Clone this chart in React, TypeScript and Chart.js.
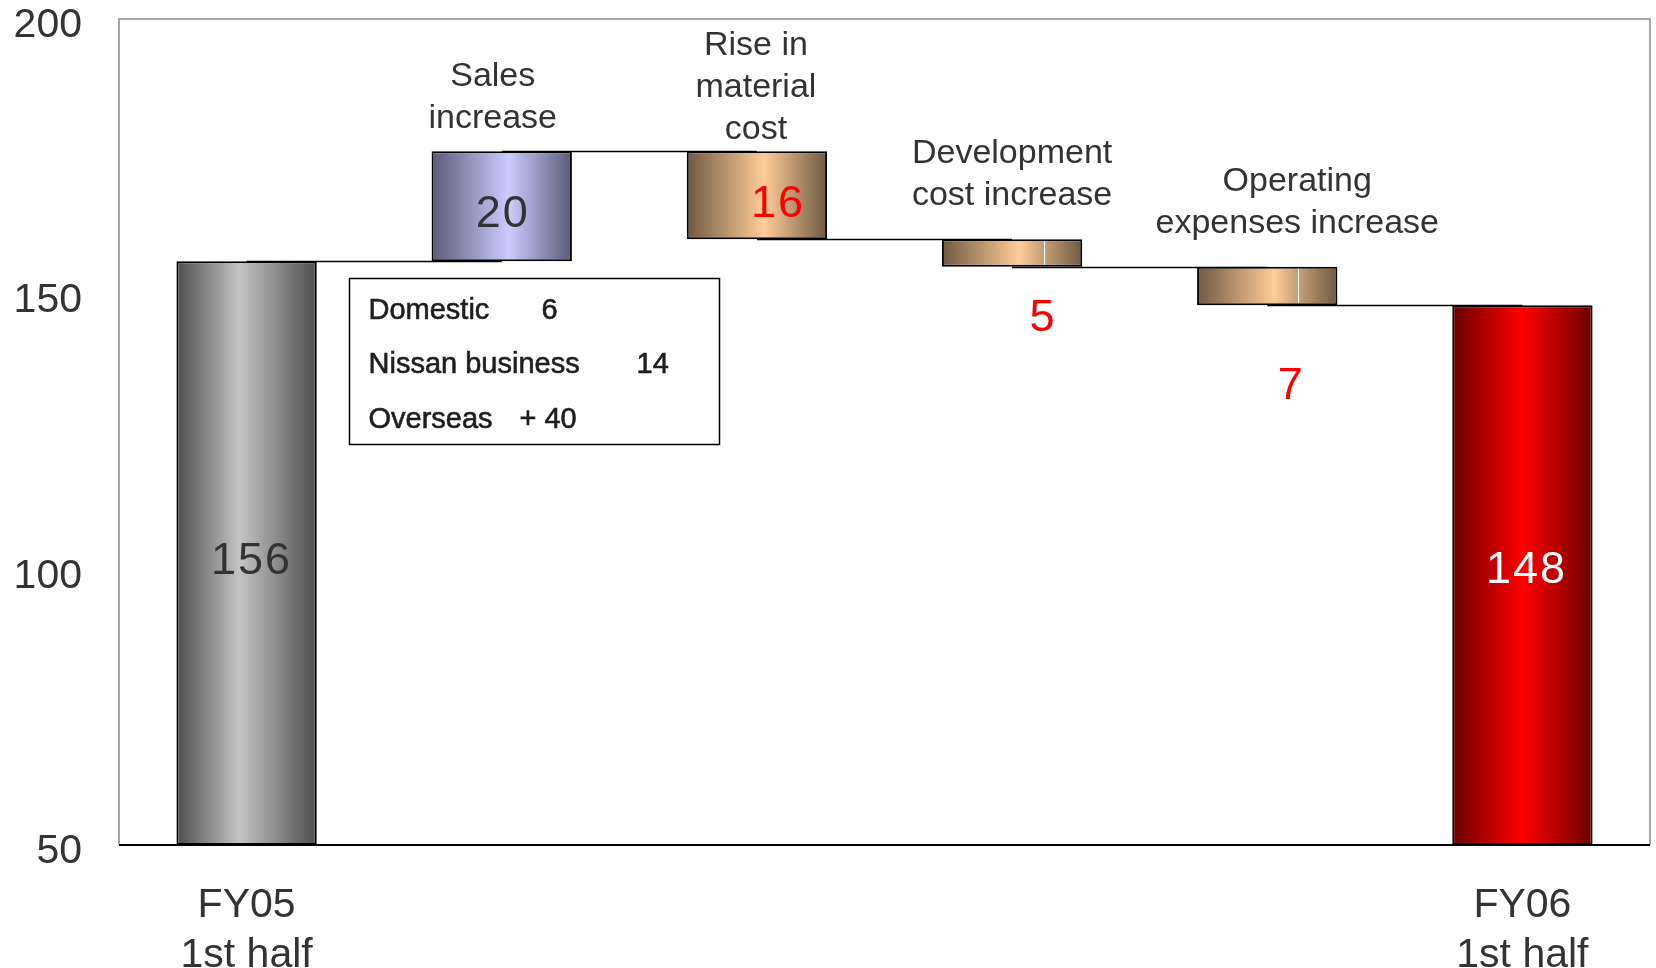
import React, { useEffect, useRef } from "react";
import { Chart, registerables } from "chart.js";

Chart.register(...registerables);

// ---------- data ----------
const categories = [
  "FY05 1st half",
  "Sales increase",
  "Rise in material cost",
  "Development cost increase",
  "Operating expenses increase",
  "FY06 1st half",
];
const xTickLabels: (string | string[])[] = [["FY05", "1st half"], "", "", "", "", ["FY06", "1st half"]];
const headerLabels: string[][] = [
  [],
  ["Sales", "increase"],
  ["Rise in", "material", "cost"],
  ["Development", "cost increase"],
  ["Operating", "expenses increase"],
  [],
];
const yMin = 50;
const yMax = 200;
const yStep = 50;
const startValue = 156;
const changes = [20, -16, -5, -7];
const endValue = 148;
const valueLabels = ["156", "20", "16", "5", "7", "148"];
const breakdownNames = ["Domestic", "Nissan business", "Overseas"];
const breakdownValues = ["6", "14", "+ 40"];

// floating ranges built from the values above
const ranges: [number, number][] = [];
const levels: number[] = [];
{
  let level = startValue;
  ranges.push([yMin, startValue]);
  levels.push(level);
  for (const c of changes) {
    const next = level + c;
    ranges.push([Math.min(level, next), Math.max(level, next)]);
    level = next;
    levels.push(level);
  }
  ranges.push([yMin, endValue]);
}

// ---------- styles ----------
const BROWN_EDGE = "#6e5942";
const BROWN_MID = "#ffcc99";
const BROWN_AT_LINE = "#c59e76";
const gradientStops: [number, string][][] = [
  [[0, "#4e4e4e"], [0.45, "#c4c4c4"], [1, "#4e4e4e"]],
  [[0, "#5a5a76"], [0.55, "#ccccff"], [1, "#5a5a76"]],
  [[0, BROWN_EDGE], [0.55, BROWN_MID], [1, BROWN_EDGE]],
  [[0, BROWN_EDGE], [0.55, BROWN_MID], [0.724, BROWN_AT_LINE], [0.725, "#ffffff"], [0.732, "#ffffff"], [0.733, BROWN_AT_LINE], [1, BROWN_EDGE]],
  [[0, BROWN_EDGE], [0.55, BROWN_MID], [0.716, BROWN_AT_LINE], [0.717, "#ffffff"], [0.724, "#ffffff"], [0.725, BROWN_AT_LINE], [1, BROWN_EDGE]],
  [[0, "#6a0000"], [0.5, "#ff0000"], [1, "#6a0000"]],
];
const BAR_PCT = 0.55;
const FONT = "'Liberation Sans', Arial, sans-serif";
const TEXT = "#333333";

// label placement (pixel offsets / value anchors for glyph centres)
const valueLabelStyle = [
  { color: TEXT, dx: 4, at: 102.2 },
  { color: TEXT, dx: 0, at: 165.1 },
  { color: "#ff0000", dx: 20, at: 167.0 },
  { color: "#ff0000", dx: 30, at: 146.3 },
  { color: "#ff0000", dx: 23, at: 134.0 },
  { color: "#ffffff", dx: 3, at: 100.5 },
];
const headerStyle = [
  null,
  { dx: -9, lastBaseline: 180.2 },
  { dx: -1, lastBaseline: 178.2 },
  { dx: 0, lastBaseline: 166.2 },
  { dx: 30, lastBaseline: 161.1 },
  null,
];

const waterfallPlugin = {
  id: "waterfallDecor",
  beforeDatasetsDraw(chart: any) {
    const { ctx, chartArea: a, scales } = chart;
    const xs = scales.x;
    const ys = scales.y;
    ctx.save();
    // frame
    ctx.strokeStyle = "#8a8a8a";
    ctx.lineWidth = 1.5;
    ctx.beginPath();
    ctx.moveTo(a.left, a.bottom);
    ctx.lineTo(a.left, a.top);
    ctx.lineTo(a.right, a.top);
    ctx.lineTo(a.right, a.bottom);
    ctx.stroke();
    ctx.strokeStyle = "#000";
    ctx.lineWidth = 2;
    ctx.beginPath();
    ctx.moveTo(a.left, a.bottom);
    ctx.lineTo(a.right, a.bottom);
    ctx.stroke();
    // connectors
    ctx.strokeStyle = "#000";
    ctx.lineWidth = 1.5;
    for (let i = 0; i < levels.length; i++) {
      const y = Math.round(ys.getPixelForValue(levels[i])) + 0.5;
      ctx.beginPath();
      ctx.moveTo(xs.getPixelForValue(i), y);
      ctx.lineTo(xs.getPixelForValue(i + 1), y);
      ctx.stroke();
    }
    ctx.restore();
  },
  afterDatasetsDraw(chart: any) {
    const { ctx, scales } = chart;
    const xs = scales.x;
    const ys = scales.y;
    ctx.save();
    // value labels
    const vSize = 45;
    ctx.textAlign = "center";
    ctx.textBaseline = "alphabetic";
    ctx.font = `${vSize}px ${FONT}`;
    (ctx as any).letterSpacing = "2px";
    valueLabels.forEach((t, i) => {
      const st = valueLabelStyle[i];
      ctx.fillStyle = st.color;
      ctx.fillText(t, xs.getPixelForValue(i) + st.dx + 1, ys.getPixelForValue(st.at) + vSize * 0.358);
    });
    (ctx as any).letterSpacing = "0px";
    // headers
    ctx.font = `34px ${FONT}`;
    ctx.fillStyle = TEXT;
    headerLabels.forEach((lines, i) => {
      const st = headerStyle[i];
      if (!st || !lines.length) return;
      const base = ys.getPixelForValue(st.lastBaseline);
      lines.forEach((ln, k) => {
        ctx.fillText(ln, xs.getPixelForValue(i) + st.dx, base - (lines.length - 1 - k) * 42);
      });
    });
    // breakdown box
    const x0 = xs.getPixelForValue(0);
    const cw = xs.getPixelForValue(1) - x0;
    const left = Math.round(x0 + 0.4 * cw) + 0.5;
    const right = Math.round(x0 + 1.851 * cw) + 0.5;
    const top = Math.round(ys.getPixelForValue(152.9)) + 0.5;
    const bottom = Math.round(ys.getPixelForValue(122.8)) + 0.5;
    ctx.fillStyle = "#fff";
    ctx.fillRect(left, top, right - left, bottom - top);
    ctx.strokeStyle = "#000";
    ctx.lineWidth = 1.5;
    ctx.strokeRect(left, top, right - left, bottom - top);
    ctx.font = `29px ${FONT}`;
    ctx.fillStyle = "#1e1e1e";
    ctx.strokeStyle = "#1e1e1e";
    ctx.lineWidth = 0.6;
    ctx.textAlign = "left";
    const valueOffsets = [192, 287, 170];
    breakdownNames.forEach((n, i) => {
      const by = top + 40 + i * 54.5;
      ctx.fillText(n, left + 19, by);
      ctx.strokeText(n, left + 19, by);
      ctx.fillText(breakdownValues[i], left + valueOffsets[i], by);
      ctx.strokeText(breakdownValues[i], left + valueOffsets[i], by);
    });
    ctx.restore();
  },
};

export default function App() {
  const ref = useRef<HTMLCanvasElement | null>(null);
  useEffect(() => {
    const canvas = ref.current;
    if (!canvas) return;
    const chart = new Chart(canvas, {
      type: "bar",
      data: {
        labels: categories,
        datasets: [
          {
            data: ranges as any,
            backgroundColor: (c: any) => {
              const ch = c.chart;
              const xs = ch.scales?.x;
              if (!ch.chartArea || !xs) return "#999";
              const i = c.dataIndex;
              const cx = xs.getPixelForValue(i);
              const w = (xs.width / categories.length) * BAR_PCT;
              const g = ch.ctx.createLinearGradient(cx - w / 2, 0, cx + w / 2, 0);
              for (const [o, col] of gradientStops[i]) g.addColorStop(o, col);
              return g;
            },
            borderColor: "#000",
            borderWidth: 2,
            borderSkipped: false,
            categoryPercentage: 1,
            barPercentage: BAR_PCT,
          },
        ],
      },
      options: {
        animation: false,
        responsive: false,
        layout: { padding: { top: 19, right: 6, left: 0, bottom: 0 } },
        plugins: { legend: { display: false }, tooltip: { enabled: false } },
        scales: {
          x: {
            grid: { display: false, drawTicks: false },
            border: { display: false },
            ticks: {
              color: TEXT,
              font: { family: FONT, size: 41, lineHeight: 1.22 },
              padding: 36,
              maxRotation: 0,
              autoSkip: false,
              callback: (_v: any, i: number) => xTickLabels[i],
            },
            afterFit: (s: any) => {
              s.height = 123;
              s.paddingLeft = 0;
              s.paddingRight = 0;
            },
          },
          y: {
            min: yMin,
            max: yMax,
            grid: { display: false, drawTicks: false },
            border: { display: false },
            ticks: {
              stepSize: yStep,
              color: TEXT,
              font: { family: FONT, size: 41, lineHeight: 0.32 },
              padding: 37,
              // empty first line nudges the number slightly below the tick
              callback: (v: any) => ["", String(v)],
            },
            afterFit: (s: any) => {
              s.width = 119;
              s.paddingTop = 0;
              s.paddingBottom = 0;
            },
          },
        },
      },
      plugins: [waterfallPlugin],
    });
    return () => chart.destroy();
  }, []);
  return (
    <div style={{ position: "fixed", left: 0, top: 0, width: 1656, height: 968, background: "#fff" }}>
      <canvas ref={ref} width={1656} height={968} style={{ width: 1656, height: 968, display: "block" }} />
    </div>
  );
}
